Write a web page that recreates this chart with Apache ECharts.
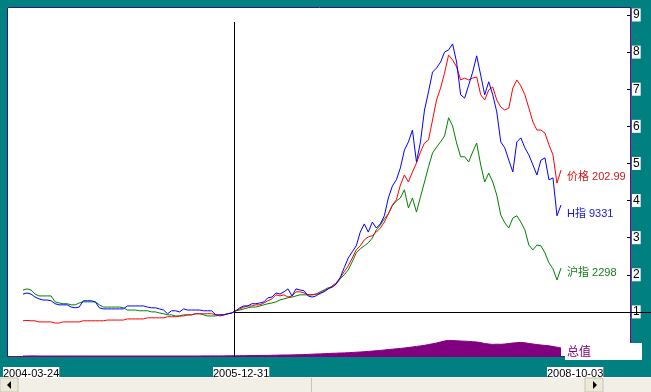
<!DOCTYPE html>
<html><head><meta charset="utf-8">
<script src="https://cdn.jsdelivr.net/npm/echarts@6/dist/echarts.min.js"></script>
<style>html,body{margin:0;padding:0;background:#008080;overflow:hidden}#c{width:651px;height:392px}</style>
</head><body><div id="c"></div>
<script>
// ---- data (normalised to 1 at 2005-12-31) ----
const dateLabels = ['2004-03-24', '2005-12-31', '2008-10-03'];
const yTickValues = [0, 1, 2, 3, 4, 5, 6, 7, 8, 9];
const seriesNames = ['价格', 'H指', '沪指', '总值'];
const lastValues = ['202.99', '9331', '2298'];

const price = [
  0.76,0.77,0.76,0.76,0.73,0.73,0.73,0.73,0.70,0.70,
  0.73,0.73,0.73,0.73,0.73,0.76,0.76,0.76,0.76,0.76,
  0.76,0.78,0.78,0.78,0.78,0.78,0.81,0.81,0.81,0.81,
  0.81,0.84,0.84,0.84,0.84,0.84,0.87,0.87,0.87,0.89,
  0.89,0.92,0.92,0.95,0.95,0.95,0.95,0.95,0.92,0.89,
  0.92,0.95,0.97,1.03,
  1.08,1.13,1.16,1.16,1.19,1.19,1.24,1.30,1.35,1.46,
  1.43,1.46,1.40,1.43,1.54,1.54,1.51,1.46,1.46,1.48,
  1.48,1.57,1.62,1.70,1.78,1.92,2.08,2.24,2.45,2.67,
  2.78,2.94,3.02,3.05,3.15,3.26,3.42,3.64,3.88,4.02,
  4.42,4.69,4.50,4.77,5.01,5.31,5.55,5.63,6.17,6.71,
  7.03,7.44,7.92,7.79,7.60,7.25,7.30,7.25,7.30,7.33,
  6.85,6.71,6.98,7.06,6.71,6.52,6.44,6.49,7.03,7.25,
  7.09,6.85,6.49,6.12,5.90,5.90,5.82,5.50,5.23,4.47,
  4.82
];
const hIndex = [
  1.48,1.51,1.48,1.40,1.35,1.32,1.32,1.30,1.22,1.19,
  1.19,1.19,1.13,1.11,1.13,1.30,1.30,1.30,1.27,1.11,
  1.08,1.08,1.08,1.08,1.08,1.08,1.16,1.16,1.16,1.16,
  1.16,1.13,1.11,1.11,1.08,1.05,0.95,1.03,1.03,1.00,
  1.08,1.05,1.05,1.05,1.05,1.03,1.03,1.03,0.92,0.92,
  0.92,0.95,0.97,1.03,
  1.11,1.16,1.16,1.22,1.22,1.24,1.27,1.38,1.40,1.51,
  1.48,1.54,1.62,1.43,1.62,1.59,1.57,1.43,1.40,1.43,
  1.51,1.54,1.62,1.67,1.75,1.92,2.19,2.45,2.62,2.78,
  3.15,3.37,3.15,3.42,3.26,3.37,3.59,4.07,4.39,4.56,
  4.88,5.36,5.58,5.90,5.04,5.58,6.44,6.93,7.46,7.57,
  7.73,8.00,8.06,8.22,7.73,6.85,6.76,7.11,7.46,7.90,
  7.38,6.85,7.20,6.85,6.39,5.58,5.42,5.09,4.77,5.58,
  5.69,5.42,5.23,4.96,4.69,5.09,5.15,4.56,4.61,3.59,
  3.88
];
const shIndex = [
  1.59,1.62,1.59,1.48,1.43,1.43,1.43,1.43,1.27,1.24,
  1.22,1.22,1.19,1.19,1.24,1.27,1.27,1.27,1.27,1.19,
  1.13,1.13,1.13,1.13,1.13,1.11,1.05,1.05,1.05,1.03,
  1.03,1.03,1.00,1.00,0.97,0.95,0.92,0.92,0.89,0.89,
  0.92,0.92,0.92,0.95,0.95,0.92,0.89,0.89,0.89,0.92,
  0.92,0.95,0.97,1.03,
  1.05,1.08,1.11,1.13,1.13,1.16,1.19,1.22,1.24,1.27,
  1.32,1.35,1.38,1.40,1.43,1.46,1.46,1.46,1.46,1.48,
  1.54,1.59,1.65,1.67,1.75,1.89,2.00,2.13,2.35,2.59,
  2.70,2.78,2.86,2.99,3.21,3.34,3.51,3.64,3.86,3.99,
  4.07,4.29,3.80,4.07,3.69,4.10,4.50,4.91,5.28,5.44,
  5.58,5.74,6.23,6.01,5.55,5.18,5.18,5.04,5.31,5.55,
  4.96,4.50,4.74,4.50,4.15,3.61,3.40,3.26,3.53,3.59,
  3.42,3.21,2.80,2.67,2.80,2.78,2.59,2.32,2.16,1.86,
  2.18
];
const totalValue = [
  1,1,1.1,1.1,1,1,1,1,1,1,
  1,1,1,1,1,1,1,1,1,1,
  1,1,1,1,1,1,1,1,1,1,
  1,1,1,1,1,1,1,1,1,1,
  1,1,1,1,1,1.1,1.1,1.1,1.1,1.1,
  1.1,1.2,1.2,1.2,
  1.3,1.3,1.4,1.4,1.5,1.5,1.6,1.6,1.7,1.8,
  1.9,2.0,2.0,2.1,2.2,2.3,2.4,2.6,2.8,3.0,
  3.1,3.3,3.5,3.7,3.8,4.0,4.1,4.3,4.5,4.8,
  5.0,5.3,5.6,5.9,6.3,6.6,7.0,7.4,7.8,8.2,
  8.6,9.0,9.5,10.0,10.6,11.1,11.7,12.4,13.2,14.0,
  15.0,16.0,16.6,16.5,16.2,16.0,15.8,15.6,15.3,15.0,
  14.4,13.4,13.0,12.6,12.8,12.7,13.0,13.5,14.0,14.3,
  14.6,14.2,13.6,13.0,12.4,12.0,11.6,11.2,10.5,9.8,
  9.0
];

// ---- chart ----
const idx = price.map((_, i) => i);
const FONT = "'Liberation Sans',Arial,sans-serif";
const CJK = "'Liberation Sans','Noto Sans CJK SC',sans-serif";
const chart = echarts.init(document.getElementById('c'), null, {renderer: 'canvas'});

function lineSeries(name, data, color) {
  return {
    name, type: 'line', data, xAxisIndex: 0, yAxisIndex: 0,
    symbol: 'none', silent: true, z: 3,
    lineStyle: {color, width: 1}
  };
}

const option = {
  animation: false,
  backgroundColor: '#008080',
  grid: [
    {left: 23, right: 90, top: 15, bottom: 43},
    {left: 23, right: 90, top: 307, bottom: 35}
  ],
  xAxis: [
    {type: 'category', gridIndex: 0, data: idx, boundaryGap: false, show: false},
    {type: 'category', gridIndex: 1, data: idx, boundaryGap: false, show: false}
  ],
  yAxis: [
    {
      type: 'value', gridIndex: 0, min: yTickValues[0], max: yTickValues[yTickValues.length - 1], interval: 1,
      position: 'right', offset: 70,
      axisLine: {show: false}, splitLine: {show: false},
      axisTick: {show: true, inside: true, length: 4, lineStyle: {color: '#000'}},
      axisLabel: {
        color: '#000', fontFamily: FONT, fontSize: 12, margin: 1,
        backgroundColor: '#fff', padding: [1, 1, 0, 1],
        formatter: v => (v === 0 ? '' : String(v))
      }
    },
    {type: 'value', gridIndex: 1, min: 0, max: 50, show: false}
  ],
  series: [
    {
      name: seriesNames[3], type: 'line', data: totalValue, xAxisIndex: 1, yAxisIndex: 1,
      symbol: 'none', silent: true, z: 2,
      lineStyle: {color: '#800080', width: 1},
      areaStyle: {color: '#800080', opacity: 1}
    },
    lineSeries(seriesNames[2], shIndex, '#008000'),
    lineSeries(seriesNames[0], price, '#ff0000'),
    lineSeries(seriesNames[1], hIndex, '#0000ff')
  ],
  graphic: [
    {type: 'rect', z: 0, shape: {x: 7, y: 7, width: 624, height: 350}, style: {fill: '#fff'}},
    {type: 'polyline', z: 5, shape: {points: [[7.5, 357], [7.5, 7.5], [631, 7.5]]}, style: {stroke: '#2a1f6a', lineWidth: 1, fill: null}},
    {type: 'polyline', z: 5, shape: {points: [[630.5, 7], [630.5, 356.5], [7, 356.5]]}, style: {stroke: '#800080', lineWidth: 1, fill: null}},
    // crosshair
    {type: 'line', z: 10, shape: {x1: 234.5, y1: 22, x2: 234.5, y2: 357}, style: {stroke: '#000', lineWidth: 1}},
    {type: 'line', z: 10, shape: {x1: 234, y1: 312.5, x2: 651, y2: 312.5}, style: {stroke: '#000', lineWidth: 1}},
    // series labels
    {type: 'text', z: 12, x: 567, y: 171, style: {text: seriesNames[0] + ' ' + lastValues[0], fill: '#d01818', font: '11px ' + CJK}},
    {type: 'text', z: 12, x: 567, y: 208, style: {text: seriesNames[1] + ' ' + lastValues[1], fill: '#1818d0', font: '11px ' + CJK}},
    {type: 'text', z: 12, x: 567, y: 267, style: {text: seriesNames[2] + ' ' + lastValues[2], fill: '#187818', font: '11px ' + CJK}},
    // total label box
    {type: 'rect', z: 12, shape: {x: 565, y: 343, width: 77, height: 17}, style: {fill: '#fff'}},
    {type: 'text', z: 13, x: 567, y: 347, style: {text: seriesNames[3], fill: '#800080', font: '12px ' + CJK}},
    // date labels
    {type: 'text', z: 12, x: 3, y: 367, style: {text: dateLabels[0], fill: '#000', font: '11px ' + FONT, backgroundColor: '#fff', padding: [1, 0, 0, 0]}},
    {type: 'text', z: 12, x: 213, y: 367, style: {text: dateLabels[1], fill: '#000', font: '11px ' + FONT, backgroundColor: '#fff', padding: [1, 0, 0, 0]}},
    {type: 'text', z: 12, x: 547, y: 367, style: {text: dateLabels[2], fill: '#000', font: '11px ' + FONT, backgroundColor: '#fff', padding: [1, 0, 0, 0]}},
    // scroll bar
    {type: 'rect', z: 14, shape: {x: 0, y: 377, width: 651, height: 15}, style: {fill: '#f1efe6'}},
    {type: 'line', z: 15, shape: {x1: 0, y1: 377.5, x2: 651, y2: 377.5}, style: {stroke: '#ffffff'}},
    {type: 'rect', z: 15, shape: {x: 0, y: 378, width: 18, height: 14}, style: {fill: '#ece9d8', stroke: '#c8c4b4'}},
    {type: 'polygon', z: 16, shape: {points: [[7, 385], [11, 381], [11, 389]]}, style: {fill: '#000'}},
    {type: 'rect', z: 15, shape: {x: 585, y: 378, width: 18, height: 14}, style: {fill: '#ece9d8', stroke: '#c8c4b4'}},
    {type: 'polygon', z: 16, shape: {points: [[597, 385], [593, 381], [593, 389]]}, style: {fill: '#000'}},
    {type: 'line', z: 15, shape: {x1: 311.5, y1: 378, x2: 311.5, y2: 392}, style: {stroke: '#c8c4b4'}}
  ]
};
chart.setOption(option);
</script>
</body></html>
